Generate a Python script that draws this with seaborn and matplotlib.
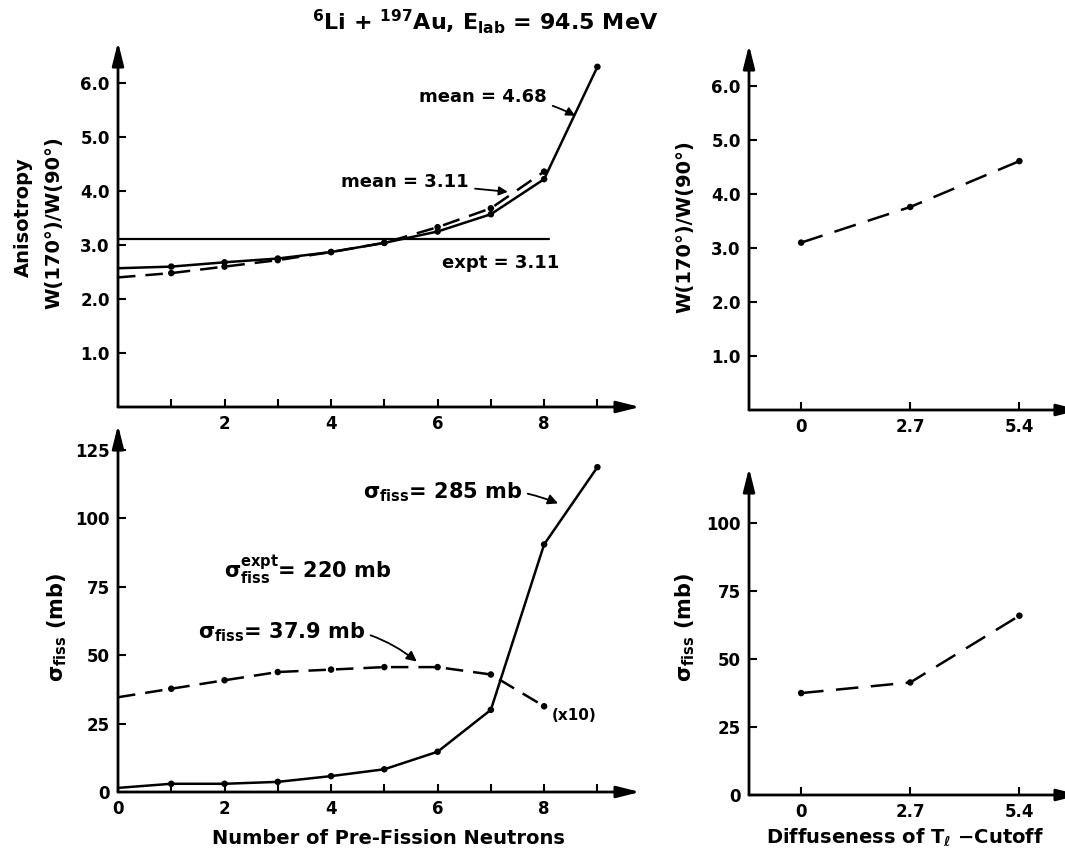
import matplotlib
matplotlib.use('Agg')
import matplotlib.pyplot as plt
import seaborn as sns

# values
neutrons = [0, 1, 2, 3, 4, 5, 6, 7, 8, 9]
aniso_solid = [2.57, 2.60, 2.68, 2.75, 2.87, 3.04, 3.25, 3.57, 4.22, 6.30]
neutrons_dash = [0, 1, 2, 3, 4, 5, 6, 7, 8]
aniso_dash = [2.40, 2.48, 2.60, 2.72, 2.87, 3.04, 3.33, 3.68, 4.36]
expt_x = [0, 8.1]
aniso_expt = [3.11, 3.11]

sigma_solid = [1.5, 3.0, 3.0, 3.7, 5.8, 8.3, 14.7, 30.0, 90.4, 118.6]
sigma_dash = [34.6, 37.7, 40.8, 43.8, 44.7, 45.6, 45.6, 42.9, 31.3]

diffuseness = [0, 2.7, 5.4]
aniso_diff = [3.10, 3.76, 4.61]
sigma_diff = [37.4, 41.3, 65.8]

sns.set_style('white')
plt.rcParams['font.family'] = ['DejaVu Sans']
plt.rcParams['font.weight'] = 'bold'
plt.rcParams['mathtext.fontset'] = 'dejavusans'
plt.rcParams['mathtext.default'] = 'bf'
plt.rcParams['text.color'] = 'black'
plt.rcParams['xtick.color'] = 'black'
plt.rcParams['ytick.color'] = 'black'

DASH = (0, (7, 4))
DASH_R = (0, (9, 5))
W = 1065
H = 860

fig = plt.figure(figsize=(10.65, 8.6), dpi=100)
ax1 = fig.add_axes([118 / W, (H - 407) / H, 522 / W, 365 / H])
ax2 = fig.add_axes([118 / W, (H - 792) / H, 522 / W, 367 / H])
ax3 = fig.add_axes([749 / W, (H - 410) / H, 331 / W, 365 / H])
ax4 = fig.add_axes([749 / W, (H - 795) / H, 331 / W, 327 / H])


def arrow_axes(ax):
    sns.despine(ax=ax, left=True, bottom=True, top=True, right=True)
    ax.set_facecolor('none')
    for tip in [(1, 0), (0, 1)]:
        ax.annotate('', xy=tip, xytext=(0, 0), xycoords='axes fraction',
                    arrowprops=dict(arrowstyle='-|>,head_length=1.4,head_width=0.35',
                                    lw=2, color='black', shrinkA=0, shrinkB=0))
    ax.tick_params(direction='in', length=6, width=1.5, labelsize=12,
                   bottom=True, left=True, pad=6, colors='black')
    ax.set_xlabel('')
    ax.set_ylabel('')


# top left: anisotropy
sns.lineplot(x=neutrons, y=aniso_solid, ax=ax1, color='black', lw=1.8)
sns.lineplot(x=neutrons_dash, y=aniso_dash, ax=ax1, color='black', lw=1.8, linestyle=DASH)
sns.lineplot(x=expt_x, y=aniso_expt, ax=ax1, color='black', lw=1.6)
sns.scatterplot(x=neutrons[1:], y=aniso_solid[1:], ax=ax1, color='black', s=22, edgecolor='none', zorder=5)
sns.scatterplot(x=neutrons_dash[1:], y=aniso_dash[1:], ax=ax1, color='black', s=22, edgecolor='none', zorder=5)
ax1.set_xlim(0, 9.8)
ax1.set_ylim(0, 6.76)
ax1.set_xticks(range(1, 10))
ax1.set_xticklabels(['', '2', '', '4', '', '6', '', '8', ''])
ax1.set_yticks([1, 2, 3, 4, 5, 6])
ax1.set_yticklabels(['1.0', '2.0', '3.0', '4.0', '5.0', '6.0'])
arrow_axes(ax1)
ax1.annotate('mean = 4.68', xy=(8.63, 5.37), xytext=(8.05, 5.74), ha='right', va='center', fontsize=13,
             arrowprops=dict(arrowstyle='-|>', color='black', lw=1.3, connectionstyle='arc3,rad=-0.15'))
ax1.annotate('mean = 3.11', xy=(7.37, 3.98), xytext=(6.59, 4.17), ha='right', va='center', fontsize=13,
             arrowprops=dict(arrowstyle='-|>', color='black', lw=1.3))
ax1.text(7.19, 2.67, 'expt = 3.11', ha='center', va='center', fontsize=13)

# bottom left: fission cross section
sns.lineplot(x=neutrons, y=sigma_solid, ax=ax2, color='black', lw=1.8)
sns.lineplot(x=neutrons_dash, y=sigma_dash, ax=ax2, color='black', lw=1.8, linestyle=DASH)
sns.scatterplot(x=neutrons[1:], y=sigma_solid[1:], ax=ax2, color='black', s=22, edgecolor='none', zorder=5)
sns.scatterplot(x=neutrons_dash[1:], y=sigma_dash[1:], ax=ax2, color='black', s=22, edgecolor='none', zorder=5)
ax2.set_xlim(0, 9.8)
ax2.set_ylim(0, 134)
ax2.set_xticks(range(0, 10))
ax2.set_xticklabels(['0', '', '2', '', '4', '', '6', '', '8', ''])
ax2.set_yticks([0, 25, 50, 75, 100, 125])
arrow_axes(ax2)
ax2.annotate(r'$\sigma_{fiss}$= 285 mb', xy=(8.31, 105), xytext=(7.58, 109.5), ha='right', va='center', fontsize=15,
             arrowprops=dict(arrowstyle='-|>', color='black', lw=1.3, connectionstyle='arc3,rad=-0.15'))
ax2.text(1.99, 81, r'$\sigma^{expt}_{fiss}$= 220 mb', ha='left', va='center', fontsize=15)
ax2.annotate(r'$\sigma_{fiss}$= 37.9 mb', xy=(5.65, 47), xytext=(4.63, 58.4), ha='right', va='center', fontsize=15,
             arrowprops=dict(arrowstyle='-|>', color='black', lw=1.3, connectionstyle='arc3,rad=-0.25'))
ax2.text(8.57, 28, '(x10)', ha='center', va='center', fontsize=11)

# top right
sns.lineplot(x=diffuseness, y=aniso_diff, ax=ax3, color='black', lw=1.8, linestyle=DASH_R)
sns.scatterplot(x=diffuseness, y=aniso_diff, ax=ax3, color='black', s=22, edgecolor='none', zorder=5)
ax3.set_xlim(-1.29, 6.9)
ax3.set_ylim(0, 6.76)
ax3.set_xticks(diffuseness)
ax3.set_xticklabels(['0', '2.7', '5.4'])
ax3.set_yticks([1, 2, 3, 4, 5, 6])
ax3.set_yticklabels(['1.0', '2.0', '3.0', '4.0', '5.0', '6.0'])
arrow_axes(ax3)

# bottom right
sns.lineplot(x=diffuseness, y=sigma_diff, ax=ax4, color='black', lw=1.8, linestyle=DASH_R)
sns.scatterplot(x=diffuseness, y=sigma_diff, ax=ax4, color='black', s=22, edgecolor='none', zorder=5)
ax4.set_xlim(-1.29, 6.9)
ax4.set_ylim(0, 120)
ax4.set_xticks(diffuseness)
ax4.set_xticklabels(['0', '2.7', '5.4'])
ax4.set_yticks([0, 25, 50, 75, 100])
arrow_axes(ax4)

# labels and title
fig.text(485 / W, 1 - 22 / H, r'$^{6}$Li + $^{197}$Au, E$_{lab}$ = 94.5 MeV', ha='center', va='center', fontsize=16)
fig.text(23 / W, 1 - 217 / H, 'Anisotropy', rotation=90, ha='center', va='center', fontsize=14)
fig.text(54 / W, 1 - 223 / H, 'W(170°)/W(90°)', rotation=90, ha='center', va='center', fontsize=14)
fig.text(57 / W, 1 - 627 / H, r'$\sigma_{fiss}$ (mb)', rotation=90, ha='center', va='center', fontsize=15)
fig.text(685 / W, 1 - 227 / H, 'W(170°)/W(90°)', rotation=90, ha='center', va='center', fontsize=14)
fig.text(685 / W, 1 - 627 / H, r'$\sigma_{fiss}$ (mb)', rotation=90, ha='center', va='center', fontsize=15)
fig.text(388 / W, 1 - 838 / H, 'Number of Pre-Fission Neutrons', ha='center', va='center', fontsize=14)
fig.text(905 / W, 1 - 837 / H, r'Diffuseness of $T_\ell$ $-$Cutoff', ha='center', va='center', fontsize=14)

fig.savefig('out.png', dpi=100)
